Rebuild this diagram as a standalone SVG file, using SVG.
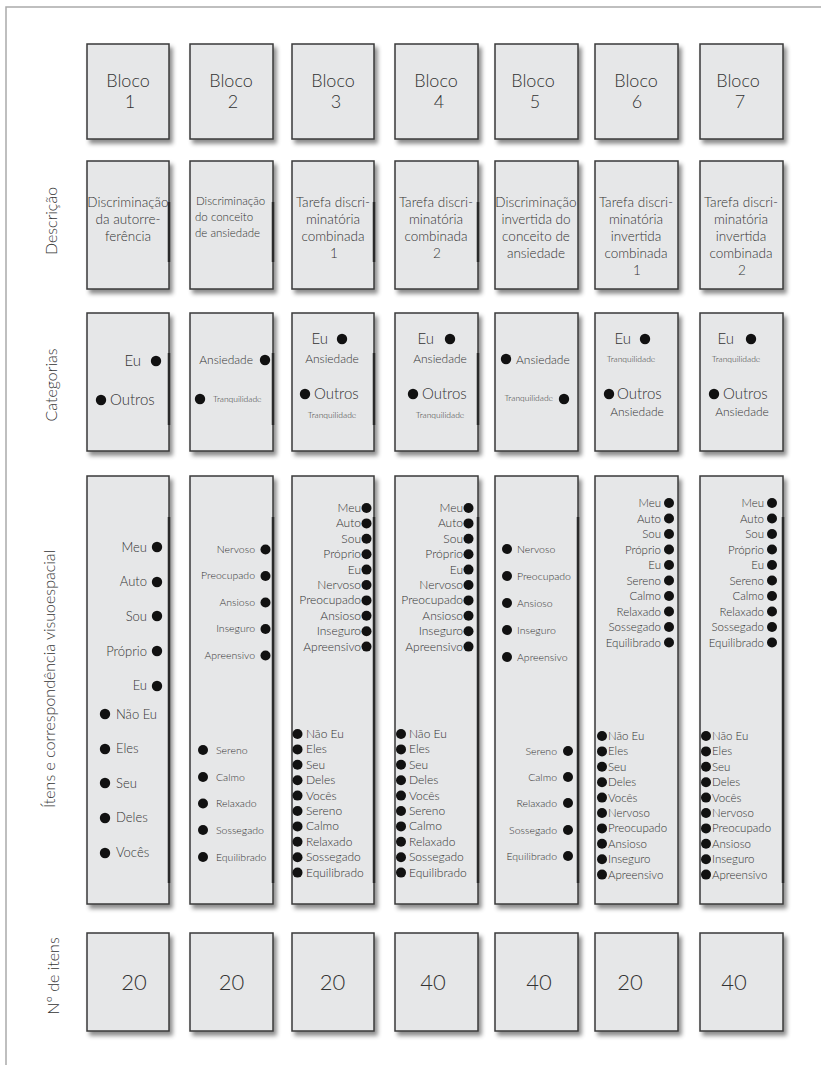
<svg xmlns="http://www.w3.org/2000/svg" width="821" height="1066" viewBox="0 0 821 1066">
<defs>
<filter id="sh" x="-10%" y="-10%" width="130%" height="130%">
<feDropShadow dx="3" dy="4" stdDeviation="2" flood-color="#000" flood-opacity="0.45"/>
</filter>
</defs>
<style>
.box{fill:#e6e7e8;stroke:#3a3a3a;stroke-width:1.5;filter:url(#sh)}
.bar{stroke:#2a2a2a;stroke-width:2.5}
text{font-family:Lato,"Open Sans","Liberation Sans",sans-serif;font-weight:300;fill:#333}
.m{text-anchor:middle}
.e{text-anchor:end}
.lab{font-size:16px;text-anchor:middle}
.bl{font-size:18px;text-anchor:middle}
.ds{font-size:13.5px;text-anchor:middle}
.ds2{font-size:11.5px}
.big{font-size:15px}
.an{font-size:12px}
.tq{font-size:8.5px}
.i1{font-size:13px}
.i2{font-size:10.5px}
.i3{font-size:12px}
.i4{font-size:11.5px}
.num{font-size:22px;text-anchor:middle}
.dot{fill:#111}
</style>
<rect width="821" height="1066" fill="#fff"/>
<path d="M6 1065 V7 H821" fill="none" stroke="#aaa" stroke-width="1.5"/>

<g id="row-labels">
<text class="lab" transform="translate(57 221) rotate(-90)">Descrição</text>
<text class="lab" transform="translate(57 385) rotate(-90)">Categorias</text>
<text class="lab" transform="translate(55 679) rotate(-90)">Ítens e correspondência visuoespacial</text>
<text class="lab" transform="translate(59 976) rotate(-90)">Nº de itens</text>
</g>

<!-- Row 1: Bloco -->
<g id="bloco1"><rect class="box" x="87" y="44" width="82" height="95"/><text class="bl" x="128" y="87">Bloco</text><text class="bl" x="130" y="108">1</text></g>
<g id="bloco2"><rect class="box" x="190" y="44" width="83" height="95"/><text class="bl" x="231" y="87">Bloco</text><text class="bl" x="233" y="108">2</text></g>
<g id="bloco3"><rect class="box" x="292" y="44" width="82" height="95"/><text class="bl" x="333" y="87">Bloco</text><text class="bl" x="336" y="108">3</text></g>
<g id="bloco4"><rect class="box" x="395" y="44" width="83" height="95"/><text class="bl" x="436" y="87">Bloco</text><text class="bl" x="439" y="108">4</text></g>
<g id="bloco5"><rect class="box" x="495" y="44" width="83" height="95"/><text class="bl" x="533" y="87">Bloco</text><text class="bl" x="535" y="108">5</text></g>
<g id="bloco6"><rect class="box" x="595" y="44" width="83" height="95"/><text class="bl" x="636" y="87">Bloco</text><text class="bl" x="637" y="108">6</text></g>
<g id="bloco7"><rect class="box" x="700" y="44" width="83" height="95"/><text class="bl" x="738" y="87">Bloco</text><text class="bl" x="740" y="108">7</text></g>

<!-- Row 2: Descrição -->
<g id="desc1"><rect class="box" x="87" y="161" width="82" height="128"/><line class="bar" x1="169" y1="202" x2="169" y2="262"/>
<text class="ds" x="128" y="207">Discriminação</text><text class="ds" x="128" y="224">da autorre-</text><text class="ds" x="128" y="241">ferência</text></g>
<g id="desc2"><rect class="box" x="190" y="161" width="83" height="128"/><line class="bar" x1="273" y1="202" x2="273" y2="262"/>
<text class="ds2" x="196" y="205">Discriminação</text><text class="ds2" x="195" y="221">do conceito</text><text class="ds2" x="195" y="237">de ansiedade</text></g>
<g id="desc3"><rect class="box" x="292" y="161" width="82" height="128"/><line class="bar" x1="374" y1="202" x2="374" y2="262"/>
<text class="ds" x="333" y="207">Tarefa discri-</text><text class="ds" x="333" y="224">minatória</text><text class="ds" x="333" y="241">combinada</text><text class="ds" x="334" y="258">1</text></g>
<g id="desc4"><rect class="box" x="395" y="161" width="83" height="128"/><line class="bar" x1="478" y1="202" x2="478" y2="262"/>
<text class="ds" x="436" y="207">Tarefa discri-</text><text class="ds" x="436" y="224">minatória</text><text class="ds" x="436" y="241">combinada</text><text class="ds" x="437" y="258">2</text></g>
<g id="desc5"><rect class="box" x="495" y="161" width="83" height="128"/>
<text class="ds" x="536" y="207">Discriminação</text><text class="ds" x="536" y="224">invertida do</text><text class="ds" x="536" y="241">conceito de</text><text class="ds" x="536" y="258">ansiedade</text></g>
<g id="desc6"><rect class="box" x="595" y="161" width="83" height="128"/>
<text class="ds" x="636" y="207">Tarefa discri-</text><text class="ds" x="636" y="224">minatória</text><text class="ds" x="636" y="241">invertida</text><text class="ds" x="636" y="258">combinada</text><text class="ds" x="637" y="275">1</text></g>
<g id="desc7"><rect class="box" x="700" y="161" width="83" height="128"/>
<text class="ds" x="741" y="207">Tarefa discri-</text><text class="ds" x="741" y="224">minatória</text><text class="ds" x="741" y="241">invertida</text><text class="ds" x="741" y="258">combinada</text><text class="ds" x="742" y="275">2</text></g>

<!-- Row 3: Categorias -->
<g id="cat1"><rect class="box" x="87" y="313" width="82" height="138"/><line class="bar" x1="169" y1="353" x2="169" y2="425"/>
<text class="big e" x="141" y="366">Eu</text><circle class="dot" cx="156" cy="361" r="5.2"/>
<circle class="dot" cx="101" cy="400" r="5.2"/><text class="big" x="110" y="405">Outros</text></g>
<g id="cat2"><rect class="box" x="190" y="313" width="83" height="138"/><line class="bar" x1="273" y1="353" x2="273" y2="425"/>
<text class="an e" x="253" y="364">Ansiedade</text><circle class="dot" cx="265" cy="360" r="5.2"/>
<circle class="dot" cx="200" cy="399" r="5.2"/><text class="tq" x="213" y="402">Tranquilidade</text></g>
<g id="cat3"><rect class="box" x="292" y="313" width="82" height="138"/><line class="bar" x1="374" y1="353" x2="374" y2="425"/>
<text class="big e" x="328" y="344">Eu</text><circle class="dot" cx="342" cy="339" r="5.2"/>
<text class="an m" x="332" y="363">Ansiedade</text>
<circle class="dot" cx="305" cy="394" r="5.2"/><text class="big" x="314" y="399">Outros</text>
<text class="tq m" x="332" y="418">Tranquilidade</text></g>
<g id="cat4"><rect class="box" x="395" y="313" width="83" height="138"/><line class="bar" x1="478" y1="353" x2="478" y2="425"/>
<text class="big e" x="434" y="344">Eu</text><circle class="dot" cx="450" cy="339" r="5.2"/>
<text class="an m" x="440" y="363">Ansiedade</text>
<circle class="dot" cx="413" cy="394" r="5.2"/><text class="big" x="422" y="399">Outros</text>
<text class="tq m" x="440" y="418">Tranquilidade</text></g>
<g id="cat5"><rect class="box" x="495" y="313" width="83" height="138"/>
<circle class="dot" cx="506" cy="359" r="5.2"/><text class="an" x="516" y="364">Ansiedade</text>
<text class="tq e" x="553" y="401">Tranquilidade</text><circle class="dot" cx="564" cy="399" r="5.2"/></g>
<g id="cat6"><rect class="box" x="595" y="313" width="83" height="138"/>
<text class="big e" x="631" y="344">Eu</text><circle class="dot" cx="645" cy="339" r="5.2"/>
<text class="tq m" x="631" y="362">Tranquilidade</text>
<circle class="dot" cx="609" cy="394" r="5.2"/><text class="big" x="617" y="399">Outros</text>
<text class="an m" x="637" y="416">Ansiedade</text></g>
<g id="cat7"><rect class="box" x="700" y="313" width="83" height="138"/>
<text class="big e" x="734" y="344">Eu</text><circle class="dot" cx="751" cy="339" r="5.2"/>
<text class="tq m" x="736" y="362">Tranquilidade</text>
<circle class="dot" cx="714" cy="394" r="5.2"/><text class="big" x="723" y="399">Outros</text>
<text class="an m" x="742" y="416">Ansiedade</text></g>

<!-- Row 4: Itens -->
<g id="itens1"><rect class="box" x="87" y="476" width="82" height="428"/><line class="bar" x1="169" y1="517" x2="169" y2="883"/>
<g class="i1">
<text class="e" x="147" y="552">Meu</text><circle class="dot" cx="157" cy="547" r="5.2"/>
<text class="e" x="147" y="586">Auto</text><circle class="dot" cx="157" cy="582" r="5.2"/>
<text class="e" x="147" y="621">Sou</text><circle class="dot" cx="157" cy="616" r="5.2"/>
<text class="e" x="147" y="656">Próprio</text><circle class="dot" cx="157" cy="651" r="5.2"/>
<text class="e" x="147" y="690">Eu</text><circle class="dot" cx="157" cy="686" r="5.2"/>
<circle class="dot" cx="105" cy="714" r="5.2"/><text x="116" y="719">Não Eu</text>
<circle class="dot" cx="105" cy="749" r="5.2"/><text x="116" y="753">Eles</text>
<circle class="dot" cx="105" cy="783" r="5.2"/><text x="116" y="788">Seu</text>
<circle class="dot" cx="105" cy="818" r="5.2"/><text x="116" y="822">Deles</text>
<circle class="dot" cx="105" cy="853" r="5.2"/><text x="116" y="857">Vocês</text>
</g></g>

<g id="itens2"><rect class="box" x="190" y="476" width="83" height="428"/><line class="bar" x1="273" y1="517" x2="273" y2="883"/>
<g class="i2">
<text class="e" x="255" y="553">Nervoso</text><circle class="dot" cx="265.5" cy="549.5" r="5"/>
<text class="e" x="255" y="579">Preocupado</text><circle class="dot" cx="265.5" cy="576" r="5"/>
<text class="e" x="255" y="606">Ansioso</text><circle class="dot" cx="265.5" cy="602.5" r="5"/>
<text class="e" x="255" y="632">Inseguro</text><circle class="dot" cx="265.5" cy="629" r="5"/>
<text class="e" x="255" y="659">Apreensivo</text><circle class="dot" cx="265.5" cy="655.5" r="5"/>
<circle class="dot" cx="203" cy="750" r="5"/><text x="216" y="754">Sereno</text>
<circle class="dot" cx="203" cy="777" r="5"/><text x="216" y="781">Calmo</text>
<circle class="dot" cx="203" cy="803.5" r="5"/><text x="216" y="807">Relaxado</text>
<circle class="dot" cx="203" cy="830" r="5"/><text x="216" y="834">Sossegado</text>
<circle class="dot" cx="203" cy="857" r="5"/><text x="216" y="861">Equilibrado</text>
</g></g>

<g id="itens3"><rect class="box" x="292" y="476" width="82" height="428"/><line class="bar" x1="374" y1="517" x2="374" y2="883"/>
<g class="i3">
<text class="e" x="361" y="512">Meu</text><circle class="dot" cx="366.5" cy="508" r="5"/>
<text class="e" x="361" y="527.4">Auto</text><circle class="dot" cx="366.5" cy="523.4" r="5"/>
<text class="e" x="361" y="542.8">Sou</text><circle class="dot" cx="366.5" cy="538.8" r="5"/>
<text class="e" x="361" y="558.2">Próprio</text><circle class="dot" cx="366.5" cy="554.2" r="5"/>
<text class="e" x="361" y="573.6">Eu</text><circle class="dot" cx="366.5" cy="569.6" r="5"/>
<text class="e" x="361" y="589">Nervoso</text><circle class="dot" cx="366.5" cy="585" r="5"/>
<text class="e" x="361" y="604.4">Preocupado</text><circle class="dot" cx="366.5" cy="600.4" r="5"/>
<text class="e" x="361" y="619.8">Ansioso</text><circle class="dot" cx="366.5" cy="615.8" r="5"/>
<text class="e" x="361" y="635.2">Inseguro</text><circle class="dot" cx="366.5" cy="631.2" r="5"/>
<text class="e" x="361" y="650.6">Apreensivo</text><circle class="dot" cx="366.5" cy="646.6" r="5"/>
<circle class="dot" cx="297.5" cy="734" r="5"/><text x="306" y="738">Não Eu</text>
<circle class="dot" cx="297.5" cy="749.4" r="5"/><text x="306" y="753.4">Eles</text>
<circle class="dot" cx="297.5" cy="764.8" r="5"/><text x="306" y="768.8">Seu</text>
<circle class="dot" cx="297.5" cy="780.2" r="5"/><text x="306" y="784.2">Deles</text>
<circle class="dot" cx="297.5" cy="795.6" r="5"/><text x="306" y="799.6">Vocês</text>
<circle class="dot" cx="297.5" cy="811" r="5"/><text x="306" y="815">Sereno</text>
<circle class="dot" cx="297.5" cy="826.4" r="5"/><text x="306" y="830.4">Calmo</text>
<circle class="dot" cx="297.5" cy="841.8" r="5"/><text x="306" y="845.8">Relaxado</text>
<circle class="dot" cx="297.5" cy="857.2" r="5"/><text x="306" y="861.2">Sossegado</text>
<circle class="dot" cx="297.5" cy="872.6" r="5"/><text x="306" y="876.6">Equilibrado</text>
</g></g>

<g id="itens4"><rect class="box" x="395" y="476" width="83" height="428"/><line class="bar" x1="478" y1="517" x2="478" y2="883"/>
<g class="i3">
<text class="e" x="463" y="512">Meu</text><circle class="dot" cx="468.5" cy="508" r="5"/>
<text class="e" x="463" y="527.4">Auto</text><circle class="dot" cx="468.5" cy="523.4" r="5"/>
<text class="e" x="463" y="542.8">Sou</text><circle class="dot" cx="468.5" cy="538.8" r="5"/>
<text class="e" x="463" y="558.2">Próprio</text><circle class="dot" cx="468.5" cy="554.2" r="5"/>
<text class="e" x="463" y="573.6">Eu</text><circle class="dot" cx="468.5" cy="569.6" r="5"/>
<text class="e" x="463" y="589">Nervoso</text><circle class="dot" cx="468.5" cy="585" r="5"/>
<text class="e" x="463" y="604.4">Preocupado</text><circle class="dot" cx="468.5" cy="600.4" r="5"/>
<text class="e" x="463" y="619.8">Ansioso</text><circle class="dot" cx="468.5" cy="615.8" r="5"/>
<text class="e" x="463" y="635.2">Inseguro</text><circle class="dot" cx="468.5" cy="631.2" r="5"/>
<text class="e" x="463" y="650.6">Apreensivo</text><circle class="dot" cx="468.5" cy="646.6" r="5"/>
<circle class="dot" cx="401" cy="734" r="5"/><text x="409" y="738">Não Eu</text>
<circle class="dot" cx="401" cy="749.4" r="5"/><text x="409" y="753.4">Eles</text>
<circle class="dot" cx="401" cy="764.8" r="5"/><text x="409" y="768.8">Seu</text>
<circle class="dot" cx="401" cy="780.2" r="5"/><text x="409" y="784.2">Deles</text>
<circle class="dot" cx="401" cy="795.6" r="5"/><text x="409" y="799.6">Vocês</text>
<circle class="dot" cx="401" cy="811" r="5"/><text x="409" y="815">Sereno</text>
<circle class="dot" cx="401" cy="826.4" r="5"/><text x="409" y="830.4">Calmo</text>
<circle class="dot" cx="401" cy="841.8" r="5"/><text x="409" y="845.8">Relaxado</text>
<circle class="dot" cx="401" cy="857.2" r="5"/><text x="409" y="861.2">Sossegado</text>
<circle class="dot" cx="401" cy="872.6" r="5"/><text x="409" y="876.6">Equilibrado</text>
</g></g>

<g id="itens5"><rect class="box" x="495" y="476" width="83" height="428"/><line class="bar" x1="578" y1="517" x2="578" y2="883"/>
<g class="i2">
<circle class="dot" cx="507" cy="549" r="5"/><text x="517" y="552.5">Nervoso</text>
<circle class="dot" cx="507" cy="576" r="5"/><text x="517" y="579.5">Preocupado</text>
<circle class="dot" cx="507" cy="603" r="5"/><text x="517" y="606.5">Ansioso</text>
<circle class="dot" cx="507" cy="630" r="5"/><text x="517" y="633.5">Inseguro</text>
<circle class="dot" cx="507" cy="657" r="5"/><text x="517" y="660.5">Apreensivo</text>
<text class="e" x="557" y="754.5">Sereno</text><circle class="dot" cx="568" cy="751" r="5"/>
<text class="e" x="557" y="780.5">Calmo</text><circle class="dot" cx="568" cy="777" r="5"/>
<text class="e" x="557" y="806.5">Relaxado</text><circle class="dot" cx="568" cy="803" r="5"/>
<text class="e" x="557" y="833.5">Sossegado</text><circle class="dot" cx="568" cy="830" r="5"/>
<text class="e" x="557" y="859.5">Equilibrado</text><circle class="dot" cx="568" cy="856" r="5"/>
</g></g>

<g id="itens6"><rect class="box" x="595" y="476" width="83" height="428"/>
<g class="i4">
<text class="e" x="661" y="507">Meu</text><circle class="dot" cx="669" cy="503" r="5"/>
<text class="e" x="661" y="522.5">Auto</text><circle class="dot" cx="669" cy="518.5" r="5"/>
<text class="e" x="661" y="538">Sou</text><circle class="dot" cx="669" cy="534" r="5"/>
<text class="e" x="661" y="553.5">Próprio</text><circle class="dot" cx="669" cy="549.5" r="5"/>
<text class="e" x="661" y="569">Eu</text><circle class="dot" cx="669" cy="565" r="5"/>
<text class="e" x="661" y="584.5">Sereno</text><circle class="dot" cx="669" cy="580.5" r="5"/>
<text class="e" x="661" y="600">Calmo</text><circle class="dot" cx="669" cy="596" r="5"/>
<text class="e" x="661" y="615.5">Relaxado</text><circle class="dot" cx="669" cy="611.5" r="5"/>
<text class="e" x="661" y="631">Sossegado</text><circle class="dot" cx="669" cy="627" r="5"/>
<text class="e" x="661" y="646.5">Equilibrado</text><circle class="dot" cx="669" cy="642.5" r="5"/>
<circle class="dot" cx="602" cy="736" r="5"/><text x="608" y="740">Não Eu</text>
<circle class="dot" cx="602" cy="751.4" r="5"/><text x="608" y="755.4">Eles</text>
<circle class="dot" cx="602" cy="766.8" r="5"/><text x="608" y="770.8">Seu</text>
<circle class="dot" cx="602" cy="782.2" r="5"/><text x="608" y="786.2">Deles</text>
<circle class="dot" cx="602" cy="797.6" r="5"/><text x="608" y="801.6">Vocês</text>
<circle class="dot" cx="602" cy="813" r="5"/><text x="608" y="817">Nervoso</text>
<circle class="dot" cx="602" cy="828.4" r="5"/><text x="608" y="832.4">Preocupado</text>
<circle class="dot" cx="602" cy="843.8" r="5"/><text x="608" y="847.8">Ansioso</text>
<circle class="dot" cx="602" cy="859.2" r="5"/><text x="608" y="863.2">Inseguro</text>
<circle class="dot" cx="602" cy="874.6" r="5"/><text x="608" y="878.6">Apreensivo</text>
</g></g>

<g id="itens7"><rect class="box" x="700" y="476" width="83" height="428"/><line class="bar" x1="783" y1="517" x2="783" y2="883"/>
<g class="i4">
<text class="e" x="764" y="507">Meu</text><circle class="dot" cx="772" cy="503" r="5"/>
<text class="e" x="764" y="522.5">Auto</text><circle class="dot" cx="772" cy="518.5" r="5"/>
<text class="e" x="764" y="538">Sou</text><circle class="dot" cx="772" cy="534" r="5"/>
<text class="e" x="764" y="553.5">Próprio</text><circle class="dot" cx="772" cy="549.5" r="5"/>
<text class="e" x="764" y="569">Eu</text><circle class="dot" cx="772" cy="565" r="5"/>
<text class="e" x="764" y="584.5">Sereno</text><circle class="dot" cx="772" cy="580.5" r="5"/>
<text class="e" x="764" y="600">Calmo</text><circle class="dot" cx="772" cy="596" r="5"/>
<text class="e" x="764" y="615.5">Relaxado</text><circle class="dot" cx="772" cy="611.5" r="5"/>
<text class="e" x="764" y="631">Sossegado</text><circle class="dot" cx="772" cy="627" r="5"/>
<text class="e" x="764" y="646.5">Equilibrado</text><circle class="dot" cx="772" cy="642.5" r="5"/>
<circle class="dot" cx="706" cy="736" r="5"/><text x="712" y="740">Não Eu</text>
<circle class="dot" cx="706" cy="751.4" r="5"/><text x="712" y="755.4">Eles</text>
<circle class="dot" cx="706" cy="766.8" r="5"/><text x="712" y="770.8">Seu</text>
<circle class="dot" cx="706" cy="782.2" r="5"/><text x="712" y="786.2">Deles</text>
<circle class="dot" cx="706" cy="797.6" r="5"/><text x="712" y="801.6">Vocês</text>
<circle class="dot" cx="706" cy="813" r="5"/><text x="712" y="817">Nervoso</text>
<circle class="dot" cx="706" cy="828.4" r="5"/><text x="712" y="832.4">Preocupado</text>
<circle class="dot" cx="706" cy="843.8" r="5"/><text x="712" y="847.8">Ansioso</text>
<circle class="dot" cx="706" cy="859.2" r="5"/><text x="712" y="863.2">Inseguro</text>
<circle class="dot" cx="706" cy="874.6" r="5"/><text x="712" y="878.6">Apreensivo</text>
</g></g>

<!-- Row 5: Nº de itens -->
<g id="n1"><rect class="box" x="87" y="933" width="82" height="98"/><text class="num" x="134" y="990">20</text></g>
<g id="n2"><rect class="box" x="190" y="933" width="83" height="98"/><text class="num" x="231.5" y="990">20</text></g>
<g id="n3"><rect class="box" x="292" y="933" width="82" height="98"/><text class="num" x="332.5" y="990">20</text></g>
<g id="n4"><rect class="box" x="395" y="933" width="83" height="98"/><text class="num" x="433" y="990">40</text></g>
<g id="n5"><rect class="box" x="495" y="933" width="83" height="98"/><text class="num" x="539" y="990">40</text></g>
<g id="n6"><rect class="box" x="595" y="933" width="83" height="98"/><text class="num" x="630" y="990">20</text></g>
<g id="n7"><rect class="box" x="700" y="933" width="83" height="98"/><text class="num" x="734" y="990">40</text></g>
</svg>
